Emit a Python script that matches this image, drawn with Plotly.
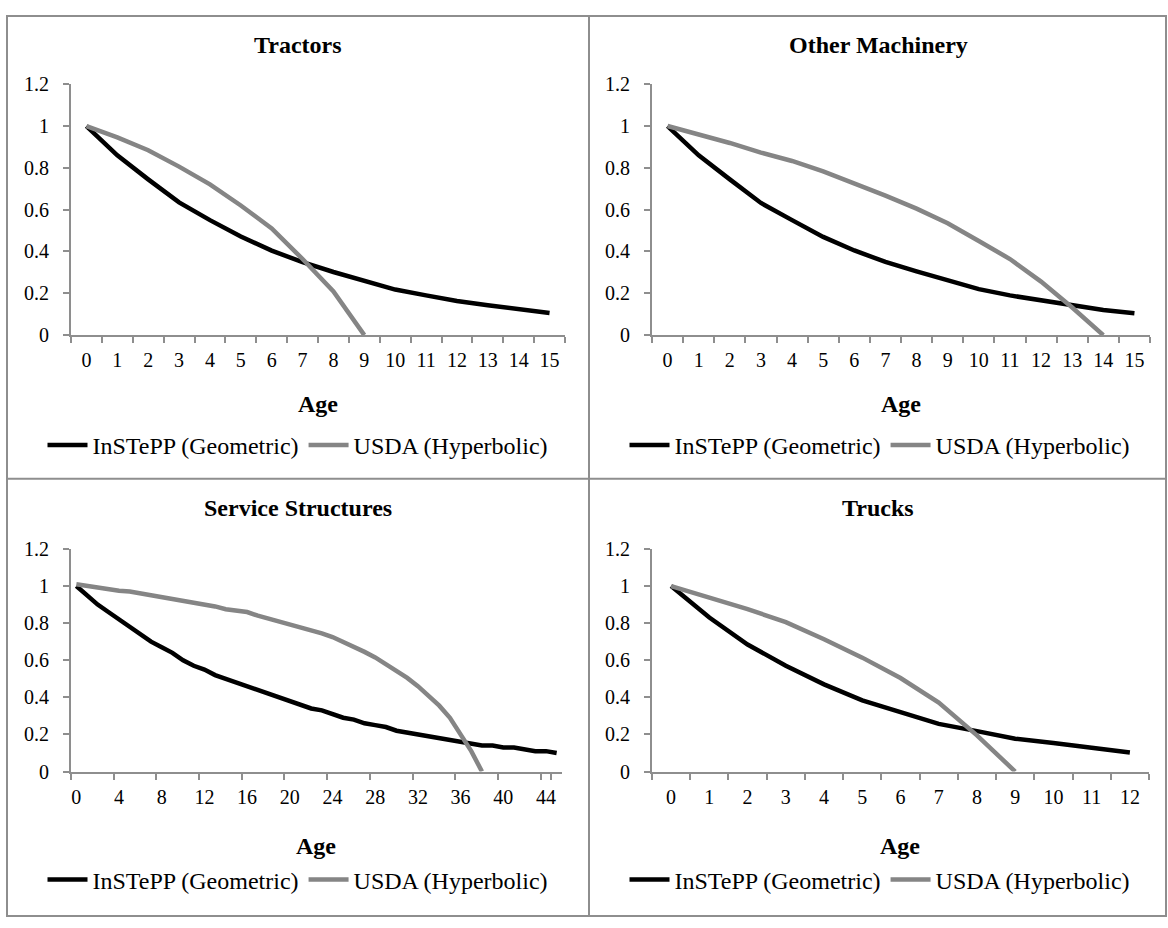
import plotly.graph_objects as go

# ---------------- data ----------------
ages_tractors = list(range(0, 16))
tractors_geo = [1.00, 0.86, 0.745, 0.635, 0.55, 0.472, 0.404, 0.349, 0.302, 0.259, 0.218, 0.19, 0.163, 0.143, 0.124, 0.106]
tractors_usda = [1.00, 0.946, 0.884, 0.806, 0.721, 0.62, 0.51, 0.364, 0.209, 0.0]

ages_machinery = list(range(0, 16))
machinery_geo = [1.00, 0.86, 0.745, 0.632, 0.55, 0.47, 0.405, 0.35, 0.305, 0.26, 0.22, 0.19, 0.165, 0.142, 0.12, 0.105]
machinery_usda = [1.00, 0.961, 0.919, 0.873, 0.833, 0.783, 0.726, 0.667, 0.605, 0.535, 0.45, 0.364, 0.256, 0.132, 0.0]

ages_structures = list(range(0, 46))
structures_geo = [1.00, 0.95, 0.90, 0.86, 0.82, 0.78, 0.74, 0.70, 0.67, 0.64, 0.60, 0.57, 0.55, 0.52, 0.50,
                  0.48, 0.46, 0.44, 0.42, 0.40, 0.38, 0.36, 0.34, 0.33, 0.31, 0.29, 0.28, 0.26, 0.25, 0.24,
                  0.22, 0.21, 0.20, 0.19, 0.18, 0.17, 0.16, 0.15, 0.14, 0.14, 0.13, 0.13, 0.12, 0.11, 0.11, 0.10]
structures_usda = [1.01, 1.00, 0.99, 0.985, 0.975, 0.97, 0.96, 0.955, 0.945, 0.935, 0.925, 0.915, 0.90, 0.89,
                   0.875, 0.865, 0.86, 0.84, 0.825, 0.81, 0.795, 0.78, 0.765, 0.745, 0.725, 0.70, 0.675, 0.645,
                   0.615, 0.58, 0.545, 0.505, 0.46, 0.41, 0.355, 0.29, 0.20, 0.11, 0.0]

ages_trucks = list(range(0, 13))
trucks_geo = [1.00, 0.83, 0.685, 0.57, 0.47, 0.384, 0.32, 0.257, 0.218, 0.177, 0.154, 0.13, 0.103]
trucks_usda = [1.00, 0.938, 0.876, 0.805, 0.713, 0.614, 0.504, 0.372, 0.195, 0.0]

panel_titles = ["Tractors", "Other Machinery", "Service Structures", "Trucks"]
series_names = ["InSTePP (Geometric)", "USDA (Hyperbolic)"]
x_title = "Age"
y_ticks = [0, 0.2, 0.4, 0.6, 0.8, 1.0, 1.2]
y_tick_text = ["0", "0.2", "0.4", "0.6", "0.8", "1", "1.2"]

panels = [
    (ages_tractors, tractors_geo, tractors_usda, 1),
    (ages_machinery, machinery_geo, machinery_usda, 1),
    (ages_structures, structures_geo, structures_usda, 4),
    (ages_trucks, trucks_geo, trucks_usda, 1),
]

# ---------------- layout geometry ----------------
W, H = 1168, 928
FONT = "Liberation Serif"
AXIS_GRAY = "#8e8e8e"
LINE_GRAY = "#858585"

def px(x):
    return x / W

def py(y):
    return 1 - y / H

x_domains = [(71, 565), (652, 1150), (71, 562), (652, 1149)]
y_domains = [(75, 332), (75, 332), (551, 779), (551, 779)]
title_pos = [(298, 35), (878, 35), (298, 509), (878, 509)]
age_pos = [(318, 403), (901, 403), (316, 855), (900, 855)]
legend_pos = [(298, 445), (880, 445), (298, 890), (880, 890)]

fig = go.Figure()
layout = dict(
    width=W, height=H,
    margin=dict(l=0, r=0, t=0, b=0),
    paper_bgcolor="white", plot_bgcolor="white",
    font=dict(family=FONT, color="black", size=20),
    annotations=[], shapes=[],
)

for i, (ages, geo, usda, step) in enumerate(panels):
    n = i + 1
    xa = "x" if n == 1 else f"x{n}"
    ya = "y" if n == 1 else f"y{n}"
    leg = "legend" if n == 1 else f"legend{n}"
    cats = [str(a) for a in ages]
    fig.add_trace(go.Scatter(
        x=cats[:len(geo)], y=geo, mode="lines", name=series_names[0],
        line=dict(color="black", width=4.5), xaxis=xa, yaxis=ya, legend=leg,
    ))
    fig.add_trace(go.Scatter(
        x=cats[:len(usda)], y=usda, mode="lines", name=series_names[1],
        line=dict(color=LINE_GRAY, width=4.5), xaxis=xa, yaxis=ya, legend=leg,
    ))
    xkey = "xaxis" if n == 1 else f"xaxis{n}"
    ykey = "yaxis" if n == 1 else f"yaxis{n}"
    layout[xkey] = dict(
        domain=[px(x_domains[i][0]), px(x_domains[i][1])],
        anchor=ya, type="category",
        categoryorder="array", categoryarray=cats,
        range=[-0.5, len(cats) - 0.5],
        tickmode="array", tickvals=cats[::step], ticktext=cats[::step],
        tickson="boundaries", tickangle=0,
        showline=True, linecolor=AXIS_GRAY, linewidth=2,
        ticks="outside", ticklen=6, tickwidth=2, tickcolor=AXIS_GRAY,
        showgrid=False, zeroline=False,
        tickfont=dict(family=FONT, size=20, color="black"),
        ticklabelstandoff=6,
        fixedrange=True,
    )
    layout[ykey] = dict(
        domain=[py(y_domains[i][1]), py(y_domains[i][0])],
        anchor=xa, range=[0, 1.2],
        tickmode="array", tickvals=y_ticks, ticktext=y_tick_text,
        showline=True, linecolor=AXIS_GRAY, linewidth=2,
        ticks="outside", ticklen=6, tickwidth=2, tickcolor=AXIS_GRAY,
        showgrid=False, zeroline=False,
        tickfont=dict(family=FONT, size=20, color="black"),
        ticklabelstandoff=10,
        fixedrange=True,
    )
    layout[leg] = dict(
        orientation="h", x=px(legend_pos[i][0]), y=py(legend_pos[i][1]),
        xanchor="center", yanchor="middle",
        font=dict(family=FONT, size=24, color="black"),
        bgcolor="rgba(0,0,0,0)", itemwidth=40, tracegroupgap=0,
    )
    layout["annotations"].append(dict(
        text=f"<b>{panel_titles[i]}</b>", x=px(title_pos[i][0]), y=py(title_pos[i][1]),
        xref="paper", yref="paper", xanchor="center", yanchor="middle",
        showarrow=False, font=dict(family=FONT, size=24, color="black"),
    ))
    layout["annotations"].append(dict(
        text=f"<b>{x_title}</b>", x=px(age_pos[i][0]), y=py(age_pos[i][1]),
        xref="paper", yref="paper", xanchor="center", yanchor="middle",
        showarrow=False, font=dict(family=FONT, size=24, color="black"),
    ))

# panel borders
border = dict(type="line", xref="paper", yref="paper", line=dict(color=AXIS_GRAY, width=2))
layout["shapes"] = [
    dict(type="rect", xref="paper", yref="paper", x0=px(7), x1=px(1166), y0=py(927), y1=py(5),
         line=dict(color=AXIS_GRAY, width=2), fillcolor="rgba(0,0,0,0)"),
    dict(border, x0=px(589), x1=px(589), y0=py(927), y1=py(5)),
    dict(border, x0=px(7), x1=px(1166), y0=py(479), y1=py(479)),
]

fig.update_layout(**layout)
fig.write_html("out.html", config={"displayModeBar": False},
               post_script="document.body.style.margin='0';")
